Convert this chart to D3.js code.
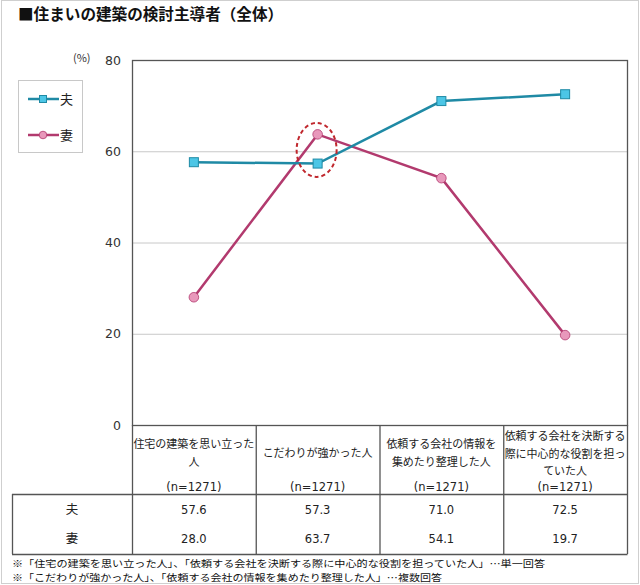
<!DOCTYPE html>
<html>
<head>
<meta charset="utf-8">
<script src="https://cdn.jsdelivr.net/npm/d3@7"></script>
<style>
  body { margin: 0; background: #fff; }
  svg text { font-family: "Noto Sans CJK JP", sans-serif; fill: #222; }
  .num { font-family: "DejaVu Sans", Verdana, sans-serif; }
</style>
</head>
<body>
<svg id="chart" width="640" height="585"></svg>
<script>
// chart data
const categories = ["住宅の建築を思い立った人", "こだわりが強かった人", "依頼する会社の情報を集めたり整理した人", "依頼する会社を決断する際に中心的な役割を担っていた人"];
const categoryLines = [
  ["住宅の建築を思い立った", "人"],
  ["こだわりが強かった人"],
  ["依頼する会社の情報を", "集めたり整理した人"],
  ["依頼する会社を決断する", "際に中心的な役割を担っ", "ていた人"]
];
const sampleN = [1271, 1271, 1271, 1271];
const seriesNames = ["夫", "妻"];
const husband = [57.6, 57.3, 71.0, 72.5];
const wife = [28.0, 63.7, 54.1, 19.7];
const yTicks = [0, 20, 40, 60, 80];
const footnotes = [
  "※「住宅の建築を思い立った人」、「依頼する会社を決断する際に中心的な役割を担っていた人」…単一回答",
  "※「こだわりが強かった人」、「依頼する会社の情報を集めたり整理した人」…複数回答"
];

const svg = d3.select("#chart");
const plot = { left: 132, right: 627, top: 60, bottom: 425 };
const tableTop = 494, tableBottom = 554, tableLeft = 12;
const colors = { husband: "#1f8aa5", husbandFill: "#4cc6e6", wife: "#b23a6e", wifeFill: "#e898bb" };

const x = d3.scaleBand().domain(categories).range([plot.left, plot.right]).paddingInner(0).paddingOuter(0);
const y = d3.scaleLinear().domain([0, 80]).range([plot.bottom, plot.top]);
const cx = (i) => x(categories[i]) + x.bandwidth() / 2;

// outer frame
svg.append("rect").attr("x", 1.5).attr("y", 0.5).attr("width", 637).attr("height", 583)
  .attr("fill", "none").attr("stroke", "#cfcfcf");

// title
svg.append("text").attr("x", 18).attr("y", 20).attr("font-size", 15.6).attr("font-weight", "bold")
  .style("fill", "#111").text("■住まいの建築の検討主導者（全体）");

// grid lines
svg.append("g").selectAll("line").data(yTicks.filter(d => d > 0 && d < 80)).join("line")
  .attr("x1", plot.left).attr("x2", plot.right)
  .attr("y1", d => y(d) + 0.5).attr("y2", d => y(d) + 0.5)
  .attr("stroke", "#c8c8c8").attr("stroke-width", 1);

// y axis labels
const yAxis = svg.append("g").attr("transform", `translate(${plot.left},0)`)
  .call(d3.axisLeft(y).tickValues(yTicks).tickSize(0).tickPadding(11));
yAxis.select(".domain").remove();
yAxis.selectAll("text").attr("class", "num").attr("font-size", 12.5).style("fill", "#333");
svg.append("text").attr("x", 73).attr("y", 62).attr("font-size", 11).style("fill", "#333").text("(%)");

// plot frame
svg.append("rect").attr("x", plot.left + 0.5).attr("y", plot.top + 0.5)
  .attr("width", plot.right - plot.left).attr("height", plot.bottom - plot.top)
  .attr("fill", "none").attr("stroke", "#555").attr("stroke-width", 1.3);

// column separators through labels and table
svg.append("g").selectAll("line").data(categories.concat(["end"])).join("line")
  .attr("x1", (d, i) => i < categories.length ? x(d) + 0.5 : plot.right + 0.5)
  .attr("x2", (d, i) => i < categories.length ? x(d) + 0.5 : plot.right + 0.5)
  .attr("y1", plot.bottom).attr("y2", tableBottom)
  .attr("stroke", "#555").attr("stroke-width", 1.3);

// table frame
svg.append("line").attr("x1", tableLeft).attr("x2", plot.right + 0.5)
  .attr("y1", tableTop + 0.5).attr("y2", tableTop + 0.5).attr("stroke", "#555").attr("stroke-width", 1.3);
svg.append("line").attr("x1", tableLeft).attr("x2", plot.right + 0.5)
  .attr("y1", tableBottom + 0.5).attr("y2", tableBottom + 0.5).attr("stroke", "#555").attr("stroke-width", 1.3);
svg.append("line").attr("x1", tableLeft + 0.5).attr("x2", tableLeft + 0.5)
  .attr("y1", tableTop).attr("y2", tableBottom).attr("stroke", "#555").attr("stroke-width", 1.3);

// category labels
const labelTop = { 1: 457, 2: 448, 3: 440 };
categories.forEach((c, i) => {
  const lines = categoryLines[i];
  const g = svg.append("text").attr("text-anchor", "middle").attr("font-size", 11);
  lines.forEach((ln, j) => {
    g.append("tspan").attr("x", cx(i)).attr("y", labelTop[lines.length] + j * 17.5).text(ln);
  });
  svg.append("text").attr("class", "num").attr("x", cx(i)).attr("y", 491)
    .attr("text-anchor", "middle").attr("font-size", 11.5).text(`(n=${sampleN[i]})`);
});

// table values
const rows = [husband, wife];
rows.forEach((vals, r) => {
  const ty = 514 + r * 29;
  svg.append("text").attr("x", (tableLeft + plot.left) / 2).attr("y", ty)
    .attr("text-anchor", "middle").attr("font-size", 12.5).text(seriesNames[r]);
  svg.append("g").selectAll("text").data(vals).join("text")
    .attr("class", "num").attr("x", (d, i) => cx(i)).attr("y", ty)
    .attr("text-anchor", "middle").attr("font-size", 11.5).text(d => d.toFixed(1));
});

// footnotes (stretched to the widths in the picture)
const footWidths = [533, 430];
footnotes.forEach((f, i) => {
  svg.append("text").attr("x", 12).attr("y", 566.5 + i * 14).attr("font-size", 9.6)
    .attr("textLength", footWidths[i]).attr("lengthAdjust", "spacingAndGlyphs")
    .style("fill", "#111").text(f);
});

// lines
const line = d3.line().x((d, i) => cx(i)).y(d => y(d));
svg.append("path").datum(wife).attr("d", line).attr("fill", "none")
  .attr("stroke", colors.wife).attr("stroke-width", 2.5);
svg.append("path").datum(husband).attr("d", line).attr("fill", "none")
  .attr("stroke", colors.husband).attr("stroke-width", 2.5);

svg.append("g").selectAll("circle").data(wife).join("circle")
  .attr("cx", (d, i) => cx(i)).attr("cy", d => y(d)).attr("r", 4.8)
  .attr("fill", colors.wifeFill).attr("stroke", colors.wife).attr("stroke-width", 0.8);
svg.append("g").selectAll("rect").data(husband).join("rect")
  .attr("x", (d, i) => cx(i) - 4.5).attr("y", d => y(d) - 4.5).attr("width", 9).attr("height", 9)
  .attr("fill", colors.husbandFill).attr("stroke", colors.husband).attr("stroke-width", 1);

// highlight ellipse around 2nd category
svg.append("ellipse").attr("cx", cx(1) - 1).attr("cy", (y(wife[1]) + y(husband[1])) / 2 + 1)
  .attr("rx", 20).attr("ry", 27).attr("fill", "none")
  .attr("stroke", "#c0272d").attr("stroke-width", 2).attr("stroke-dasharray", "4,3");

// legend
const legend = svg.append("g");
legend.append("rect").attr("x", 18.5).attr("y", 80.5).attr("width", 64).attr("height", 72)
  .attr("fill", "#fff").attr("stroke", "#c8c8c8");
[{ c: colors.husband, f: colors.husbandFill, sq: true, y: 99 }, { c: colors.wife, f: colors.wifeFill, sq: false, y: 135 }]
  .forEach((s, i) => {
    legend.append("line").attr("x1", 28).attr("x2", 59).attr("y1", s.y).attr("y2", s.y)
      .attr("stroke", s.c).attr("stroke-width", 2.5);
    if (s.sq) {
      legend.append("rect").attr("x", 39.5).attr("y", s.y - 3.5).attr("width", 7).attr("height", 7)
        .attr("fill", s.f).attr("stroke", s.c);
    } else {
      legend.append("circle").attr("cx", 43).attr("cy", s.y).attr("r", 3.8)
        .attr("fill", s.f).attr("stroke", s.c).attr("stroke-width", 0.8);
    }
    legend.append("text").attr("x", 60).attr("y", s.y + 5).attr("font-size", 13).text(seriesNames[i]);
  });
</script>
</body>
</html>
